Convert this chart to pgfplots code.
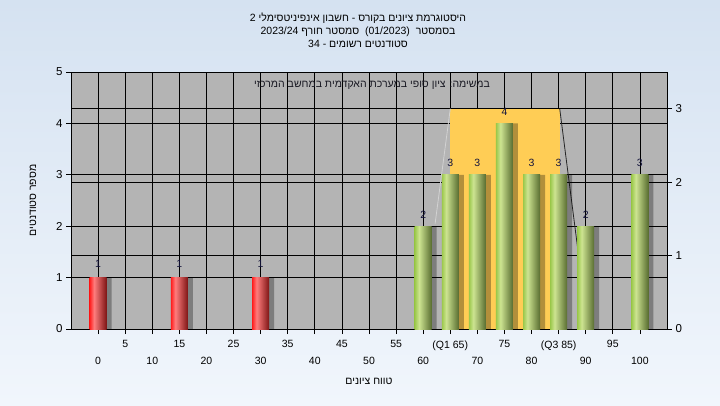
\documentclass[border=0pt]{standalone}
\usepackage{pgfplots}
\pgfplotsset{compat=1.18}
\usepackage{fontspec}
\setmainfont{Liberation Sans}
\newfontfamily\hebfont[Script=Hebrew]{Liberation Sans}
\TeXXeTstate=1
\definecolor{bgtop}{RGB}{213,226,241}
\definecolor{bgbot}{RGB}{241,246,252}
\definecolor{plotgray}{RGB}{180,180,180}
\definecolor{qorange}{RGB}{255,205,85}
\definecolor{lblcol}{RGB}{20,20,60}
\definecolor{rA}{RGB}{255,30,30}
\definecolor{rB}{RGB}{255,125,125}
\definecolor{rC}{RGB}{125,20,20}
\definecolor{gA}{RGB}{155,200,75}
\definecolor{gB}{RGB}{205,228,145}
\definecolor{gC}{RGB}{88,108,48}
\definecolor{lightln}{RGB}{210,210,210}
\pgfdeclarehorizontalshading{redbar}{100bp}{color(0bp)=(rA); color(25bp)=(rA); color(38bp)=(rB); color(75bp)=(rC); color(100bp)=(rC)}
\pgfdeclarehorizontalshading{greenbar}{100bp}{color(0bp)=(gA); color(25bp)=(gA); color(38bp)=(gB); color(75bp)=(gC); color(100bp)=(gC)}
\pgfplotsset{
  redb/.style={ybar, bar width=17pt, bar shift=0pt, draw=none, shade, shading=redbar},
  greenb/.style={ybar, bar width=17pt, bar shift=0pt, draw=none, shade, shading=greenbar},
}
\begin{document}
\begin{tikzpicture}[x=1pt,y=1pt]
\shade[top color=bgtop, bottom color=bgbot] (0,0) rectangle (720,405);
% secondary (right) axis, drawn first: background and its grid
\begin{axis}[
  at={(71pt,76pt)}, anchor=south west, scale only axis, width=596pt, height=257pt,
  xmin=-5, xmax=105, ymin=0, ymax=3.5,
  xtick=\empty, ytick={0,1,2,3}, ytick pos=right, yticklabel pos=right,
  tick align=outside, major tick length=5pt,
  ymajorgrids, grid style={black, line width=0.8pt},
  axis background/.style={fill=plotgray},
  axis line style={line width=0.8pt},
  every tick/.style={black, line width=0.8pt},
  yticklabel style={font=\fontsize{11.5}{12}\selectfont},
  /pgf/number format/assume math mode=true,
]
\addplot[draw=none] coordinates {(0,0)};
\end{axis}
% primary axis
\begin{axis}[
  at={(71pt,76pt)}, anchor=south west, scale only axis, width=596pt, height=257pt,
  xmin=-5, xmax=105, ymin=0, ymax=5,
  xtick={5,15,...,95},
  xticklabels={5,15,25,35,45,55,(Q1 65),75,(Q3 85),95},
  extra x ticks={0,10,...,100},
  extra x tick labels={0,10,20,30,40,50,60,70,80,90,100},
  extra x tick style={grid=major, tick label style={yshift=-17pt}},
  ytick={0,1,2,3,4,5},
  xtick pos=bottom, ytick pos=left,
  tick align=outside, major tick length=5pt,
  xmajorgrids, ymajorgrids, grid style={black, line width=0.8pt},
  axis line style={line width=0.8pt},
  every tick/.style={black, line width=0.8pt},
  xticklabel style={font=\fontsize{10.5}{12}\selectfont, yshift=-3pt},
  yticklabel style={font=\fontsize{11.5}{12}\selectfont},
  /pgf/number format/assume math mode=true,
  xlabel={\hebfont\beginR טווח ציונים\endR},
  xlabel style={at={(axis description cs:0.5,-0.2023)}, anchor=center, font=\fontsize{10.5}{12}\selectfont},
  ylabel={\hebfont\beginR מספר סטודנטים\endR},
  ylabel style={at={(axis description cs:-0.0638,0.5)}, anchor=center, font=\fontsize{10.5}{12}\selectfont},
]
% quartile region
\addplot[fill=qorange, draw=none] coordinates {(65,4.2857)(85.2,4.2857)} \closedcycle;
\addplot[black, line width=0.8pt] coordinates {(65,4.2857)(85.2,4.2857)};
\addplot[lightln, line width=0.8pt] coordinates {(65,4.2857)(62.2,2.05)};
\addplot[black!85, line width=0.8pt] coordinates {(85.2,4.2857)(88.6,1.5)};
% shadows
\addplot[ybar, bar width=17pt, bar shift=5pt, fill=black, opacity=0.3, draw=none]
  coordinates {(0,1)(15,1)(30,1)(60,2)(65,3)(70,3)(75,4)(80,3)(85,3)(90,2)(100,3)};
% bars (one path each, so that each has its own shading)
\addplot[redb] coordinates {(0,1)};
\addplot[redb] coordinates {(15,1)};
\addplot[redb] coordinates {(30,1)};
\addplot[greenb] coordinates {(60,2)};
\addplot[greenb] coordinates {(65,3)};
\addplot[greenb] coordinates {(70,3)};
\addplot[greenb] coordinates {(75,4)};
\addplot[greenb] coordinates {(80,3)};
\addplot[greenb] coordinates {(85,3)};
\addplot[greenb] coordinates {(90,2)};
\addplot[greenb] coordinates {(100,3)};
% value labels
\addplot[draw=none, nodes near coords, nodes near coords style={font=\fontsize{10.5}{12}\selectfont, text=lblcol, yshift=7pt}]
  coordinates {(0,1)(15,1)(30,1)};
\addplot[draw=none, nodes near coords, nodes near coords style={font=\fontsize{10.5}{12}\selectfont, text=lblcol, yshift=4.5pt}]
  coordinates {(60,2)(65,3)(70,3)(75,4)(80,3)(85,3)(90,2)(100,3)};
\node[font=\fontsize{10.5}{12}\selectfont, text={rgb,255:red,25;green,25;blue,35}, anchor=center]
  at (axis description cs:0.505,0.949) {\hebfont\beginR במשימה: ציון סופי במערכת האקדמית במחשב המרכזי\endR};
\end{axis}
\node[align=center, font=\fontsize{10.5}{13}\selectfont\hebfont] at (358,375)
  {\beginR היסטוגרמת ציונים בקורס - חשבון אינפיניטסימלי 2\endR\\
   \beginR בסמסטר\ \ (01/2023)\ \ סמסטר חורף 2023/24\endR\\
   \beginR סטודנטים רשומים - 34\endR};
\pgfresetboundingbox
\path (0,0) rectangle (720,405);
\end{tikzpicture}
\end{document}
